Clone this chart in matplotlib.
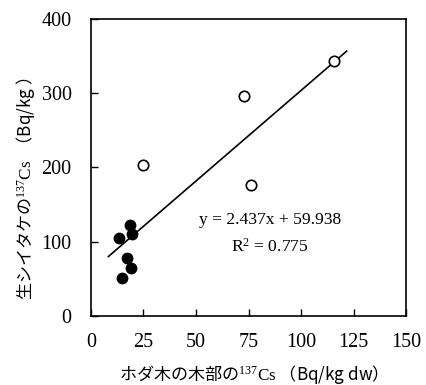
import numpy as np
import matplotlib.pyplot as plt

plt.rcParams['mathtext.fontset'] = 'custom'
plt.rcParams['mathtext.rm'] = 'Liberation Serif'
plt.rcParams['mathtext.it'] = 'Liberation Serif:italic'

# filled points
x_filled = [18.6, 19.4, 13.5, 17.3, 18.9, 14.9]
y_filled = [122.6, 111.0, 104.6, 77.7, 65.0, 51.6]
# open points
x_open = [115.9, 73.0, 24.9, 76.2]
y_open = [343.4, 296.3, 203.8, 176.0]

slope, intercept = 2.437, 59.938
line_x = [8.3, 121.7]

xticks = [0, 25, 50, 75, 100, 125, 150]
yticks = [0, 100, 200, 300, 400]

fig = plt.figure(figsize=(4.27, 3.85), dpi=100)
ax = fig.add_axes([0.213, 0.179, 0.738, 0.772])

lx = np.array(line_x)
ax.plot(lx, slope * lx + intercept, color='black', linewidth=1.2)
ax.plot(x_filled, y_filled, 'o', color='black', markersize=7.5)
ax.plot(x_open, y_open, 'o', markerfacecolor='white', markeredgecolor='black',
        markeredgewidth=1.2, markersize=7.5)

ax.set_xlim(0, 150)
ax.set_ylim(0, 400)
ax.set_xticks(xticks)
ax.set_yticks(yticks)
ax.tick_params(direction='in', length=5, width=1, labelsize=14.5)
ax.tick_params(axis='x', pad=12)
ax.tick_params(axis='y', pad=14)
for lab in ax.get_xticklabels() + ax.get_yticklabels():
    lab.set_fontfamily('Liberation Serif')
for s in ax.spines.values():
    s.set_linewidth(1.2)

ax.text(85.2, 129, 'y = 2.437x + 59.938', ha='center', va='center',
        fontsize=12.6, family='Liberation Serif')
ax.text(85.2, 93, r'R$^{2}$ = 0.775', ha='center', va='center',
        fontsize=12.6, family='Liberation Serif')

jp = ['Noto Sans CJK JP', 'DejaVu Sans']
ax.set_xlabel('ホダ木の木部の$\\mathrm{^{137}Cs}$ （Bq/kg dw）', fontsize=12.3,
              family=jp, labelpad=8)
ax.set_ylabel('生シイタケの$\\mathrm{^{137}Cs}$  （Bq/kg ）', fontsize=12.3,
              family=jp)
ax.yaxis.set_label_coords(-0.172, 0.43)

plt.savefig('out.png', dpi=100)
